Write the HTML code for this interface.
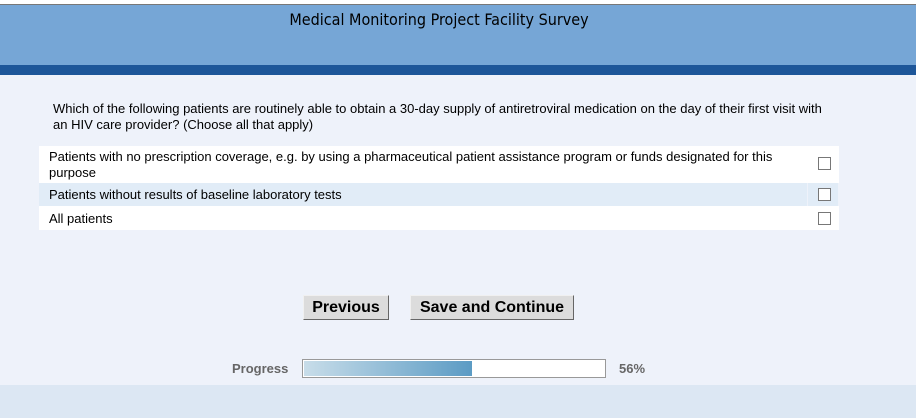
<!DOCTYPE html>
<html><head><style>
body{margin:0;width:916px;height:418px;background:#eef2fa;position:relative;overflow:hidden;font-family:"Liberation Sans",Arial,sans-serif;}
.abs{position:absolute}
.cb{position:absolute;width:11px;height:11px;border:1px solid #777;background:#fff;left:818px}
.btn{position:absolute;top:295px;height:23px;background:#dcdcdc;border:1px solid;border-color:#f0f0f0 #666 #666 #f0f0f0;font-weight:bold;font-size:16px;line-height:23px;text-align:center;color:#000}
.t{font-size:13px;color:#000;position:absolute}
</style></head><body>
<div class="abs" style="left:0;top:0;width:916px;height:4px;background:#fff"></div>
<div class="abs" style="left:0;top:4px;width:916px;height:1px;background:#777"></div>
<div class="abs" style="left:0;top:5px;width:916px;height:60px;background:#76a6d6"></div>
<div class="abs" style="left:0;top:65px;width:916px;height:10px;background:#1d5699"></div>
<div class="abs" style="left:0;top:10px;width:878px;text-align:center;font-family:'DejaVu Sans Condensed','DejaVu Sans',sans-serif;font-size:16px;color:#000">Medical Monitoring Project Facility Survey</div>
<div class="t" style="left:53px;top:101px;line-height:16px;width:775px">Which of the following patients are routinely able to obtain a 30-day supply of antiretroviral medication on the day of their first visit with an HIV care provider? (Choose all that apply)</div>
<div class="abs" style="left:39px;top:146px;width:800px;height:37px;background:#fff"></div>
<div class="abs" style="left:39px;top:183px;width:768px;height:23px;background:#e1ecf7"></div>
<div class="abs" style="left:808px;top:183px;width:30px;height:23px;background:#e1ecf7"></div>
<div class="abs" style="left:39px;top:206px;width:800px;height:24px;background:#fff"></div>
<div class="t" style="left:49px;top:149px;line-height:16px;width:750px">Patients with no prescription coverage, e.g. by using a pharmaceutical patient assistance program or funds designated for this purpose</div>
<div class="t" style="left:49px;top:187px">Patients without results of baseline laboratory tests</div>
<div class="t" style="left:49px;top:211px">All patients</div>
<div class="cb" style="top:157px"></div>
<div class="cb" style="top:188px"></div>
<div class="cb" style="top:212px"></div>
<div class="btn" style="left:303px;width:84px">Previous</div>
<div class="btn" style="left:410px;width:162px">Save and Continue</div>
<div class="abs" style="left:232px;top:361px;font-size:13px;font-weight:bold;color:#666">Progress</div>
<div class="abs" style="left:302px;top:359px;width:302px;height:17px;border:1px solid #999;background:#fff"></div>
<div class="abs" style="left:304px;top:361px;width:168px;height:15px;background:linear-gradient(to right,#c8dde9,#5b9bc4)"></div>
<div class="abs" style="left:619px;top:361px;font-size:13px;font-weight:bold;color:#666">56%</div>
<div class="abs" style="left:0;top:385px;width:916px;height:33px;background:#dce7f3"></div>
</body></html>
